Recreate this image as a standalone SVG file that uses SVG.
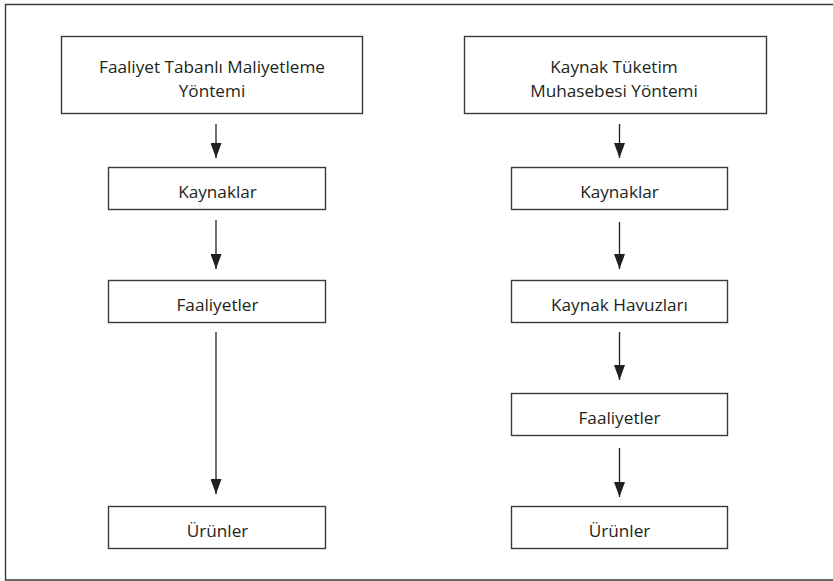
<svg xmlns="http://www.w3.org/2000/svg" width="833" height="581" viewBox="0 0 833 581">
<defs>
<style>
.box{fill:#fff;stroke:#3a3a3a;stroke-width:1.4}
.frame{fill:none;stroke:#3a3a3a;stroke-width:1.4}
.lbl{font-family:"Open Sans","Liberation Sans",sans-serif;font-size:17.2px;fill:#231f20;text-anchor:middle}
.conn{stroke:#231f20;stroke-width:1.3;fill:none;marker-end:url(#arr)}
</style>
<marker id="arr" viewBox="0 0 11 15" refX="5.5" refY="15" markerWidth="11" markerHeight="15" markerUnits="userSpaceOnUse" orient="0">
<path d="M0,0 L11,0 L5.5,15 z" fill="#231f20"/>
</marker>
</defs>
<rect width="833" height="581" fill="#fff"/>
<path class="frame" d="M840,4.5 H5.5 V580 H840"/>

<g id="left-top"><rect class="box" x="61.5" y="36.5" width="301" height="77"/>
<text class="lbl" x="212" y="73">Faaliyet Tabanlı Maliyetleme</text>
<text class="lbl" x="212" y="97">Yöntemi</text></g>
<g id="left-kaynaklar"><rect class="box" x="108.5" y="167.5" width="217" height="42"/>
<text class="lbl" x="217.5" y="197.5">Kaynaklar</text></g>
<g id="left-faaliyetler"><rect class="box" x="108.5" y="280.5" width="217" height="42"/>
<text class="lbl" x="217.5" y="310.5">Faaliyetler</text></g>
<g id="left-urunler"><rect class="box" x="108.5" y="506.5" width="217" height="42"/>
<text class="lbl" x="217.5" y="536.5">Ürünler</text></g>

<g id="right-top"><rect class="box" x="464.5" y="36.5" width="302" height="77"/>
<text class="lbl" x="614" y="73">Kaynak Tüketim</text>
<text class="lbl" x="614" y="97">Muhasebesi Yöntemi</text></g>
<g id="right-kaynaklar"><rect class="box" x="511.5" y="167.5" width="216" height="42"/>
<text class="lbl" x="619.5" y="197.5">Kaynaklar</text></g>
<g id="right-havuzlar"><rect class="box" x="511.5" y="280.5" width="216" height="42"/>
<text class="lbl" x="619.5" y="310.5">Kaynak Havuzları</text></g>
<g id="right-faaliyetler"><rect class="box" x="511.5" y="393.5" width="216" height="42"/>
<text class="lbl" x="619.5" y="423.5">Faaliyetler</text></g>
<g id="right-urunler"><rect class="box" x="511.5" y="506.5" width="216" height="42"/>
<text class="lbl" x="619.5" y="536.5">Ürünler</text></g>

<g id="connectors">
<line class="conn" x1="216" y1="124" x2="216" y2="158"/>
<line class="conn" x1="216" y1="220" x2="216" y2="269"/>
<line class="conn" x1="216" y1="332" x2="216" y2="494"/>
<line class="conn" x1="619.5" y1="124" x2="619.5" y2="158"/>
<line class="conn" x1="619.5" y1="222" x2="619.5" y2="269"/>
<line class="conn" x1="619.5" y1="332" x2="619.5" y2="380"/>
<line class="conn" x1="619.5" y1="448" x2="619.5" y2="497"/>
</g>
</svg>
